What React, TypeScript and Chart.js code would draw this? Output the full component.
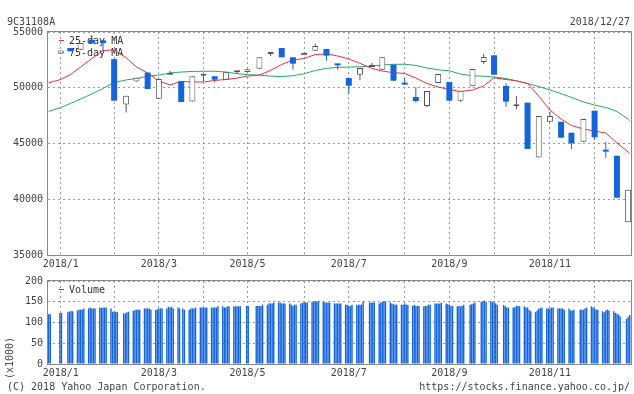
import React, { useEffect, useRef } from "react";
import { Chart, registerables } from "chart.js";

Chart.register(...registerables);

// ---------- texts ----------
const TITLE_CODE = "9C31108A";
const AS_OF = "2018/12/27";
const COPYRIGHT = "(C) 2018 Yahoo Japan Corporation.";
const SOURCE_URL = "https://stocks.finance.yahoo.co.jp/";
const VOLUME_UNIT = "(x1000)";
const MA_LABELS = ["25-day MA", "75-day MA"];
const VOLUME_LABEL = "Volume";
const MONTH_LABELS = [
  "2018/1", "2018/2", "2018/3", "2018/4", "2018/5", "2018/6",
  "2018/7", "2018/8", "2018/9", "2018/10", "2018/11", "2018/12",
];
const PRICE_TICKS = [35000, 40000, 45000, 50000, 55000];
const VOLUME_TICKS = [0, 50, 100, 150, 200];

// ---------- trading calendar ----------
const FIRST_SESSION = "2017-12-28";
const LAST_SESSION = "2018-12-27";
const MARKET_HOLIDAYS = [
  "2018-01-01", "2018-01-02", "2018-01-03", "2018-01-08", "2018-02-12",
  "2018-03-21", "2018-04-30", "2018-05-03", "2018-05-04", "2018-07-16",
  "2018-09-17", "2018-09-24", "2018-10-08", "2018-11-23", "2018-12-24",
];
// visible day range (days from 2018-01-01)
const AXIS_MIN_DAY = -4.45;
const AXIS_MAX_DAY = 360.8;

// ---------- weekly candles (52 weeks, Jan 1 week .. Dec 24 week) ----------
const OPEN = [
  53050, 53560, 53410, 54300, 54250, 52570, 48500, 50550, 51360, 49010,
  51170, 50600, 48760, 51070, 51030, 50720, 51390, 51420, 51710, 53030,
  53560, 52730, 52910, 53320, 53480, 52130, 50870, 51170, 51860, 51620,
  52070, 50330, 49170, 48370, 50430, 50520, 48840, 50130, 52310, 52910,
  50160, 48340, 48660, 43740, 46960, 46950, 45970, 45160, 47940, 44350,
  43900, 37930,
];
const CLOSE = [
  53350, 53270, 54010, 53980, 54010, 48840, 49280, 50900, 49890, 50790,
  51200, 48720, 51030, 51110, 50720, 51390, 51560, 51650, 52730, 53210,
  52730, 52160, 53120, 53740, 52880, 52010, 50180, 51770, 51900, 52730,
  50630, 50280, 48810, 49710, 51230, 48840, 49740, 51680, 52760, 51170,
  48750, 48420, 44510, 47470, 47470, 45520, 45020, 47200, 45560, 44270,
  40140, 40860,
];
const HIGH = [
  53350, 53560, 54010, 54700, 54250, 52570, 49280, 50900, 51360, 50790,
  51530, 50600, 51030, 51110, 51030, 51390, 51560, 51650, 52730, 53210,
  53560, 52730, 53120, 53950, 53480, 52130, 50870, 51770, 52220, 52730,
  52070, 50870, 50050, 49710, 51230, 50520, 49740, 51680, 53050, 52910,
  50400, 49260, 48660, 47470, 47830, 46950, 45970, 47200, 47940, 45160,
  43900, 40860,
];
const LOW = [
  53050, 53270, 53410, 53980, 53270, 48840, 47790, 50550, 49890, 49010,
  51170, 48720, 48760, 50600, 50490, 50720, 51260, 51420, 51710, 52820,
  52730, 51620, 52910, 53320, 52430, 51620, 49470, 50670, 51860, 51620,
  50630, 50280, 48660, 48280, 50430, 48840, 48750, 50130, 52160, 51170,
  48300, 48100, 44510, 43740, 46960, 45520, 44510, 45160, 45310, 43730,
  40140, 37930,
];

// ---------- moving averages: first session, each weekly candle, last session ----------
const MA25 = [
  50450,
  50740, 51170, 51860, 52620, 53340, 53390, 52690, 51860, 51320, 50600,
  50250, 50560, 50520, 50520, 50650, 50740, 50870, 51050, 51140, 51550,
  52090, 52490, 52620, 52980, 53030, 52850, 52580, 52190, 51730, 51500,
  51350, 51280, 50870, 50380, 50070, 49840, 49650, 49800, 50160, 50900,
  50740, 50630, 50380, 49260, 48000, 47200, 46610, 46300, 46120, 45940,
  45040, 44240,
  44100,
];
const MA75 = [
  47870,
  48230, 48590, 48990, 49440, 49930, 50470, 50700, 50830, 51030, 51140,
  51320, 51410, 51460, 51480, 51480, 51410, 51260, 51170, 51130, 51040,
  51010, 51080, 51260, 51550, 51740, 51830, 51860, 51880, 51930, 52040,
  52100, 52110, 52000, 51770, 51610, 51520, 51230, 51070, 51030, 50960,
  50830, 50610, 50380, 50110, 49800, 49480, 49130, 48720, 48450, 48230,
  47870, 47200,
  47060,
];

// ---------- daily volume (x1000), grouped by week ----------
const VOLUME_BY_WEEK = [
  [120, 120],
  [123, 123],
  [125, 127, 127, 127],
  [129, 131, 131, 131, 134],
  [134, 136, 134, 134, 134],
  [136, 135, 136, 136, 136],
  [134, 126, 126, 126, 125],
  [122, 122, 125, 126],
  [128, 130, 131, 131, 131],
  [134, 134, 134, 134, 131],
  [130, 132, 134, 134, 134],
  [134, 138, 136, 138, 134],
  [136, 134, 134, 131],
  [130, 134, 134, 134, 136],
  [136, 136, 136, 136, 136],
  [136, 136, 136, 136, 139],
  [139, 136, 136, 139, 139],
  [139, 139, 139, 139, 139],
  [140, 140],
  [140, 140, 140, 140, 143],
  [143, 146, 146, 146, 148],
  [148, 148, 146, 146, 146],
  [146, 143, 140, 143, 143],
  [146, 148, 148, 148, 148],
  [150, 150, 151, 151, 151],
  [150, 148, 148, 148, 148],
  [146, 146, 146, 146, 146],
  [143, 143, 140, 140, 143],
  [143, 143, 143, 143, 150],
  [148, 148, 148, 148],
  [146, 148, 150, 151, 151],
  [148, 146, 144, 143, 143],
  [143, 143, 146, 143, 143],
  [140, 143, 140, 140, 140],
  [139, 140, 140, 143, 143],
  [146, 146, 146, 146, 148],
  [146, 144, 143, 140, 140],
  [139, 140, 139, 140, 143],
  [143, 144, 146, 148],
  [150, 151, 153, 150],
  [151, 150, 148, 146, 143],
  [142, 140, 136, 136],
  [136, 136, 140, 140, 139],
  [139, 136, 136, 130, 127],
  [125, 129, 134, 134, 136],
  [134, 134, 134, 136, 136],
  [134, 134, 134, 134, 131],
  [134, 129, 129, 131],
  [131, 131, 131, 134, 136],
  [139, 136, 134, 131, 131],
  [127, 125, 129, 131, 129],
  [127, 123, 121, 119, 115],
  [109, 113, 118],
];

// ---------- styles ----------
const FONT = '"DejaVu Sans Mono", monospace';
const TEXT = "#444";
const BLUE = "#1464dc";
const UP_EDGE = "#555";
const RED = "#e8323c";
const GREEN = "#27a862";
const GRID = "#9a9a9a";
const FRAME = "#888";

const DAY_MS = 86400000;
const EPOCH = Date.UTC(2018, 0, 1);
function dayOf(iso: string): number {
  const [y, m, d] = iso.split("-").map(Number);
  return Math.round((Date.UTC(y, m - 1, d) - EPOCH) / DAY_MS);
}
function dateOf(day: number): Date {
  return new Date(EPOCH + day * DAY_MS);
}
function buildWeeks(): number[][] {
  const hol = new Set(MARKET_HOLIDAYS.map(dayOf));
  const weeks: number[][] = [];
  let key: number | null = null;
  for (let d = dayOf(FIRST_SESSION); d <= dayOf(LAST_SESSION); d++) {
    const wd = dateOf(d).getUTCDay();
    if (wd === 0 || wd === 6 || hol.has(d)) continue;
    const monday = d - ((wd + 6) % 7);
    if (monday !== key) {
      weeks.push([]);
      key = monday;
    }
    weeks[weeks.length - 1].push(d);
  }
  return weeks;
}

const WEEKS = buildWeeks();
const CANDLE_WEEKS = WEEKS.slice(1);
const CANDLE_DAYS = CANDLE_WEEKS.map((w) => w.reduce((a, b) => a + b, 0) / w.length);
const SESSIONS = WEEKS.flat();
const MA_DAYS = [SESSIONS[0], ...CANDLE_DAYS, SESSIONS[SESSIONS.length - 1]];
const MONTH_GRID_DAYS: number[] = MONTH_LABELS.map((_, m) => {
  const k = CANDLE_WEEKS.findIndex((w) => {
    const dt = dateOf(w[0]);
    return dt.getUTCFullYear() === 2018 && dt.getUTCMonth() === m;
  });
  return CANDLE_DAYS[k];
});
const IS_DOWN = OPEN.map((o, i) => CLOSE[i] < o);

const tickFont = { family: FONT, size: 10 };

function frameAndLegend(id: string, items: { label: string; color: string }[], underData: boolean) {
  const drawLegend = (chart: any) => {
    const { ctx, chartArea } = chart;
    ctx.save();
    ctx.font = `10px ${FONT}`;
    ctx.textBaseline = "middle";
    items.forEach((it, i) => {
      const y = Math.round(chartArea.top + 8 + i * 11.5) + 0.5;
      ctx.strokeStyle = it.color;
      ctx.lineWidth = 1;
      ctx.beginPath();
      ctx.moveTo(chartArea.left + 11, y);
      ctx.lineTo(chartArea.left + 16, y);
      ctx.stroke();
      ctx.fillStyle = "#333";
      ctx.fillText(it.label, chartArea.left + 21, y + 0.5);
    });
    ctx.restore();
  };
  return {
    id,
    beforeDatasetsDraw(chart: any) {
      if (underData) drawLegend(chart);
    },
    afterDraw(chart: any) {
      if (!underData) drawLegend(chart);
      const { ctx, chartArea } = chart;
      ctx.save();
      ctx.strokeStyle = FRAME;
      ctx.lineWidth = 1;
      ctx.strokeRect(
        chartArea.left - 0.5,
        chartArea.top - 0.5,
        chartArea.right - chartArea.left + 1,
        chartArea.bottom - chartArea.top + 1
      );
      ctx.restore();
    },
  };
}

function xScale(height: number) {
  return {
    type: "linear",
    min: AXIS_MIN_DAY,
    max: AXIS_MAX_DAY,
    offset: false,
    afterBuildTicks: (s: any) => {
      s.ticks = MONTH_GRID_DAYS.map((v) => ({ value: v }));
    },
    afterFit: (s: any) => {
      s.height = height;
    },
    ticks: {
      autoSkip: false,
      maxRotation: 0,
      minRotation: 0,
      padding: 3,
      color: TEXT,
      font: tickFont,
      callback: (_v: any, i: number) => (i % 2 === 0 ? MONTH_LABELS[i] : ""),
    },
    grid: { color: GRID, lineWidth: 1, drawTicks: false, offset: false },
    border: { display: false, dash: [2, 3] },
  };
}

function yScale(min: number, max: number, ticks: number[]) {
  return {
    type: "linear",
    min,
    max,
    afterBuildTicks: (s: any) => {
      s.ticks = ticks.map((v) => ({ value: v }));
    },
    afterFit: (s: any) => {
      s.width = 48;
    },
    ticks: { color: TEXT, font: tickFont, padding: 5, callback: (v: any) => String(v) },
    grid: { color: GRID, lineWidth: 1, drawTicks: false },
    border: { display: false, dash: [2, 3] },
  };
}

function priceConfig(): any {
  return {
    type: "bar",
    data: {
      datasets: [
        {
          type: "bar",
          label: "body",
          order: 0,
          grouped: false,
          barThickness: 6,
          minBarLength: 2,
          inflateAmount: 0,
          borderSkipped: false,
          data: CANDLE_DAYS.map((d, i) => ({ x: d, y: [OPEN[i], CLOSE[i]] })),
          backgroundColor: (c: any) => (IS_DOWN[c.dataIndex] ? BLUE : "#ffffff"),
          borderColor: (c: any) => (IS_DOWN[c.dataIndex] ? BLUE : UP_EDGE),
          borderWidth: (c: any) => (IS_DOWN[c.dataIndex] ? 0 : 1),
        },
        {
          type: "bar",
          label: "wick",
          order: 1,
          grouped: false,
          barThickness: 1,
          inflateAmount: 0,
          borderWidth: 0,
          data: CANDLE_DAYS.map((d, i) => ({ x: d, y: [LOW[i], HIGH[i]] })),
          backgroundColor: (c: any) => (IS_DOWN[c.dataIndex] ? BLUE : UP_EDGE),
        },
        {
          type: "line",
          label: MA_LABELS[0],
          order: 2,
          data: MA_DAYS.map((d, i) => ({ x: d, y: MA25[i] })),
          borderColor: RED,
          borderWidth: 1,
          pointRadius: 0,
          tension: 0,
          fill: false,
        },
        {
          type: "line",
          label: MA_LABELS[1],
          order: 3,
          data: MA_DAYS.map((d, i) => ({ x: d, y: MA75[i] })),
          borderColor: GREEN,
          borderWidth: 1,
          pointRadius: 0,
          tension: 0,
          fill: false,
        },
      ],
    },
    options: {
      responsive: false,
      animation: false,
      devicePixelRatio: 1,
      events: [],
      layout: { padding: { top: 32, right: 3, left: 0, bottom: 0 } },
      plugins: { legend: { display: false }, tooltip: { enabled: false } },
      scales: {
        x: xScale(15),
        y: yScale(35000, 55000, PRICE_TICKS),
      },
    },
    plugins: [
      frameAndLegend(
        "priceFrame",
        [
          { label: MA_LABELS[0], color: RED },
          { label: MA_LABELS[1], color: GREEN },
        ],
        true
      ),
    ],
  };
}

function volumeConfig(): any {
  const points: { x: number; y: number }[] = [];
  WEEKS.forEach((w, wi) => {
    w.forEach((d, di) => {
      const v = VOLUME_BY_WEEK[wi] ? VOLUME_BY_WEEK[wi][di] : undefined;
      if (v !== undefined) points.push({ x: d, y: v });
    });
  });
  return {
    type: "bar",
    data: {
      datasets: [
        {
          type: "bar",
          label: VOLUME_LABEL,
          grouped: false,
          barThickness: 1.4,
          inflateAmount: 0,
          borderWidth: 0,
          data: points,
          backgroundColor: BLUE,
        },
      ],
    },
    options: {
      responsive: false,
      animation: false,
      devicePixelRatio: 1,
      events: [],
      layout: { padding: { top: 8, right: 3, left: 0, bottom: 0 } },
      plugins: { legend: { display: false }, tooltip: { enabled: false } },
      scales: {
        x: xScale(30),
        y: yScale(0, 200, VOLUME_TICKS),
      },
    },
    plugins: [frameAndLegend("volFrame", [{ label: VOLUME_LABEL, color: BLUE }], false)],
  };
}

const textBase: React.CSSProperties = {
  position: "absolute",
  fontFamily: FONT,
  fontSize: 10,
  lineHeight: "12px",
  height: 12,
  color: TEXT,
  whiteSpace: "nowrap",
};

export default function App() {
  const priceRef = useRef<HTMLCanvasElement>(null);
  const volRef = useRef<HTMLCanvasElement>(null);

  useEffect(() => {
    const price = new Chart(priceRef.current as HTMLCanvasElement, priceConfig());
    const vol = new Chart(volRef.current as HTMLCanvasElement, volumeConfig());
    return () => {
      price.destroy();
      vol.destroy();
    };
  }, []);

  return (
    <div
      style={{
        position: "absolute",
        left: 0,
        top: 0,
        width: 634,
        height: 394,
        background: "#ffffff",
        overflow: "hidden",
      }}
    >
      <canvas
        ref={priceRef}
        width={634}
        height={270}
        style={{ position: "absolute", left: 0, top: 0, width: 634, height: 270 }}
      />
      <canvas
        ref={volRef}
        width={634}
        height={124}
        style={{ position: "absolute", left: 0, top: 270, width: 634, height: 124 }}
      />
      <div style={{ ...textBase, left: 7, top: 16 }}>{TITLE_CODE}</div>
      <div style={{ ...textBase, right: 4, top: 16 }}>{AS_OF}</div>
      <div style={{ ...textBase, left: 7, top: 381 }}>{COPYRIGHT}</div>
      <div style={{ ...textBase, right: 4, top: 381 }}>{SOURCE_URL}</div>
      <div
        style={{
          ...textBase,
          left: 9.5 - 30,
          top: 358 - 6,
          width: 60,
          textAlign: "center",
          transform: "rotate(-90deg)",
        }}
      >
        {VOLUME_UNIT}
      </div>
    </div>
  );
}
